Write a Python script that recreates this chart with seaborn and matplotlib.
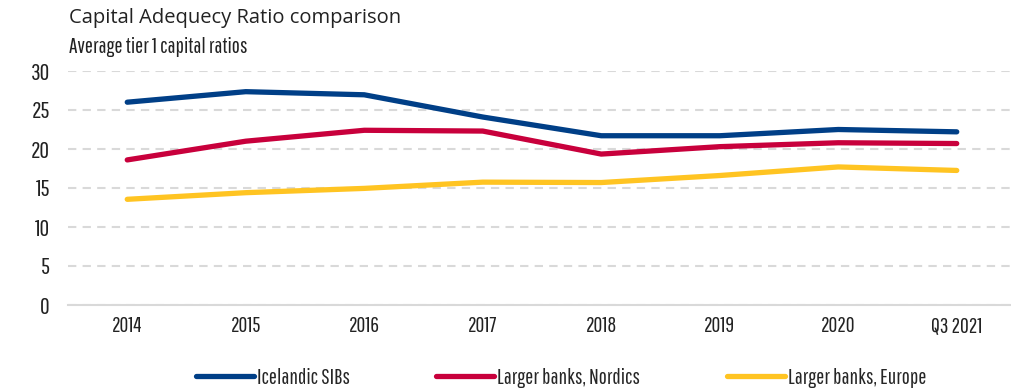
import matplotlib
matplotlib.use('Agg')
import matplotlib.pyplot as plt
import seaborn as sns
import pandas as pd

years = ['2014', '2015', '2016', '2017', '2018', '2019', '2020', 'Q3 2021']
icelandic = [26.0, 27.35, 26.95, 24.1, 21.7, 21.7, 22.5, 22.2]
nordics = [18.6, 21.0, 22.4, 22.3, 19.35, 20.3, 20.8, 20.7]
europe = [13.55, 14.4, 14.95, 15.75, 15.7, 16.6, 17.7, 17.25]

series_names = ['Icelandic SIBs', 'Larger banks, Nordics', 'Larger banks, Europe']
colors = ['#003F87', '#C8003C', '#FFC422']

df = pd.DataFrame({
    'year': years * 3,
    'value': icelandic + nordics + europe,
    'series': [s for s in series_names for _ in years],
})

sns.set_style('white')
narrow = ['Pathway Gothic One', 'Saira Extra Condensed', 'Oswald', 'DejaVu Sans']
plt.rcParams['font.family'] = narrow

fig = plt.figure(figsize=(10.12, 3.91), dpi=100)
ax = fig.add_axes([68 / 1012, 86 / 391, 948 / 1012, 234 / 391])

sns.lineplot(data=df, x='year', y='value', hue='series',
             palette=colors, linewidth=3.8, sort=False, ax=ax,
             solid_capstyle='round')

ax.set_xlim(-0.5, 7.5)
ax.set_ylim(0, 30)
ax.set_yticks(range(0, 31, 5))
ax.set_xlabel('')
ax.set_ylabel('')
ax.grid(axis='y', color='#D9D9D9', linestyle=(0, (4, 3)), linewidth=1.5)
for s in ['top', 'right', 'left']:
    ax.spines[s].set_visible(False)
ax.spines['bottom'].set_color('#D9D9D9')
ax.spines['bottom'].set_linewidth(1.5)
ax.tick_params(axis='x', length=0, labelsize=15.5, colors='#222222', pad=8)
ax.tick_params(axis='y', length=0, labelsize=17, colors='#222222', pad=13)

handles, labels = ax.get_legend_handles_labels()
ax.get_legend().remove()
fig.legend(handles, labels, loc='center', bbox_to_anchor=(561 / 1012, 1 - 378 / 391),
           ncol=3, frameon=False, fontsize=15.5, handlelength=2.7,
           handletextpad=0.15, columnspacing=4.0)

fig.text(69 / 1012, 1 - 18 / 391, 'Capital Adequecy Ratio comparison',
         fontsize=14.5, family=['Open Sans', 'DejaVu Sans'], va='center', ha='left', color='#222222')
fig.text(69 / 1012, 1 - 47 / 391, 'Average tier 1 capital ratios',
         fontsize=15.5, va='center', ha='left', color='#222222')

fig.savefig('out.png', dpi=100)
